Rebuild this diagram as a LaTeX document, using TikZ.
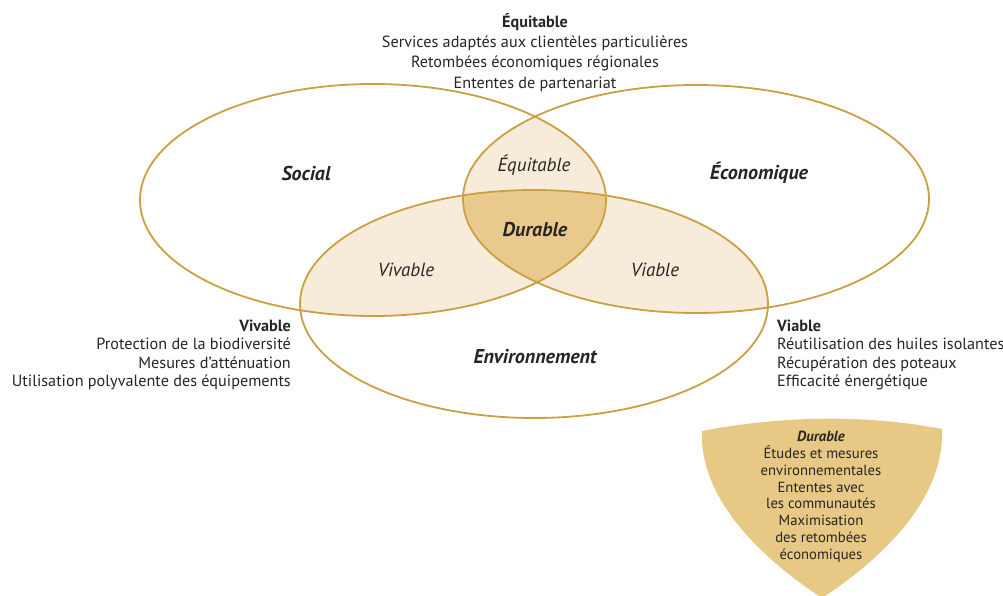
\documentclass[tikz,border=0pt]{standalone}
\usepackage{fontspec}
\setmainfont{PT Sans}
\definecolor{gold}{RGB}{203,160,66}
\definecolor{lightfill}{RGB}{247,236,217}
\definecolor{darkfill}{RGB}{234,202,140}
\definecolor{shieldfill}{RGB}{231,200,132}
\definecolor{txt}{RGB}{38,38,38}
\tikzset{
  ring/.style={draw=gold, line width=1.8pt},
  topblockstyle/.style={text=txt, font=\fontsize{16.2}{20.3}\selectfont, inner sep=0pt},
  sideblockstyle/.style={text=txt, font=\fontsize{16.2}{18.2}\selectfont, inner sep=0pt},
  setlabel/.style={text=txt, font=\fontsize{20}{22}\selectfont\bfseries\itshape, inner sep=0pt},
  zonelabel/.style={text=txt, font=\fontsize{19}{22}\selectfont\itshape, inner sep=0pt},
  shieldtext/.style={text=txt, font=\fontsize{14.7}{16.8}\selectfont, inner sep=0pt, align=center},
}
\begin{document}
\begin{tikzpicture}[x=1pt,y=-1pt]
\useasboundingbox (0,0) rectangle (1003,595);
\fill[white] (0,0) rectangle (1003,595);
\def\ellS{(373,200) ellipse [x radius=233pt, y radius=116pt]}
\def\ellE{(696,199) ellipse [x radius=233pt, y radius=114pt]}
\def\ellV{(534,304) ellipse [x radius=234pt, y radius=114pt]}
% pairwise intersections
\begin{scope}
  \clip \ellS;
  \fill[lightfill] \ellE;
  \fill[lightfill] \ellV;
\end{scope}
\begin{scope}
  \clip \ellE;
  \fill[lightfill] \ellV;
\end{scope}
% triple intersection
\begin{scope}
  \clip \ellS;
  \clip \ellE;
  \fill[darkfill] \ellV;
\end{scope}
\draw[ring] \ellS;
\draw[ring] \ellE;
\draw[ring] \ellV;

% labels inside
\node[setlabel] (social) at (306,173) {Social};
\node[setlabel] (eco) at (759,173) {Économique};
\node[setlabel] (env) at (535,357) {Environnement};
\node[zonelabel] (equi) at (534,165) {Équitable};
\node[setlabel] (dur) at (535,230) {Durable};
\node[zonelabel] (viv) at (406,270) {Vivable};
\node[zonelabel] (via) at (655,270) {Viable};

% outer texts
\node[topblockstyle, align=center, anchor=north] (topblock) at (535,13)
  {\textbf{Équitable}\\Services adaptés aux clientèles particulières\\Retombées économiques régionales\\Ententes de partenariat};
\node[sideblockstyle, align=right, anchor=north east] (leftblock) at (291,320)
  {\textbf{Vivable}\\Protection de la biodiversité\\Mesures d’atténuation\\Utilisation polyvalente des équipements};
\node[sideblockstyle, align=left, anchor=north west] (rightblock) at (777,320)
  {\textbf{Viable}\\Réutilisation des huiles isolantes\\Récupération des poteaux\\Efficacité énergétique};

% shield
\fill[shieldfill] (702,431) .. controls (780,416) and (864,414) .. (942,429)
  .. controls (945,500) and (880,560) .. (822,598)
  .. controls (764,560) and (699,500) .. (702,431) -- cycle;
\node[shieldtext, anchor=north] (shield) at (821,431)
  {\textbf{\textit{Durable}}\\Études et mesures\\environnementales\\Ententes avec\\les communautés\\Maximisation\\des retombées\\économiques};
\end{tikzpicture}
\end{document}
